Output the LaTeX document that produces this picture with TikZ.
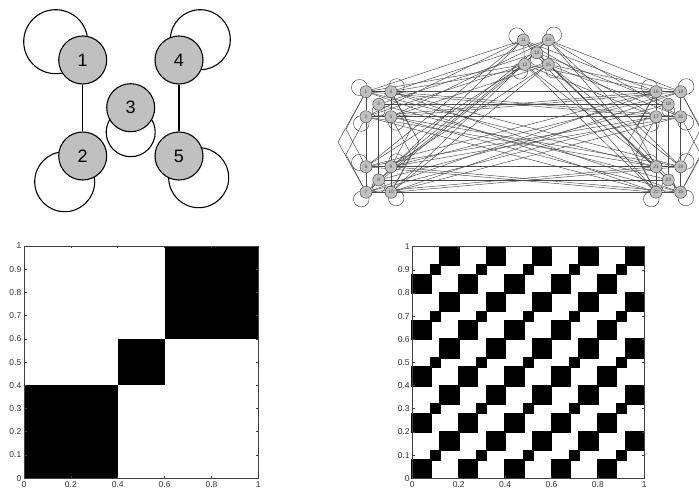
\documentclass[tikz,border=0pt]{standalone}
\usepackage{fontspec}
\setmainfont{Liberation Sans}
\usetikzlibrary{calc}
\definecolor{nodegray}{RGB}{192,192,192}
\definecolor{edgegray}{RGB}{72,72,72}
\pgfdeclarelayer{bottom}
\pgfdeclarelayer{background}
\pgfsetlayers{bottom,background,main}
\begin{document}
\begin{tikzpicture}[x=1pt,y=-1pt,
  bignode/.style={circle,draw=black,line width=1.1pt,fill=nodegray,minimum size=48pt,inner sep=0pt,font=\fontsize{18}{18}\selectfont},
  bigline/.style={draw=black,line width=1.1pt},
  smallnode/.style={circle,draw=edgegray,line width=0.45pt,fill=nodegray,minimum size=12pt,inner sep=0pt,font=\fontsize{4.8}{4.8}\selectfont,text=edgegray},
  gline/.style={draw=edgegray,line width=0.45pt},
  axisline/.style={draw=black!75,line width=0.7pt},
  ticklab/.style={inner sep=0pt,font=\fontsize{8.5}{8.5}\selectfont,text=black!80},
  blk/.style={fill=black},
  blkr/.style={fill=black,draw=black,line width=1.7pt}]

\begin{pgfonlayer}{bottom}
\fill[white] (0,0) rectangle (699,489);
\end{pgfonlayer}
\useasboundingbox (0,0) rectangle (699,489);

% ---------- small graph G ----------
\node[bignode] (a1) at (82.7,60) {1};
\node[bignode] (a4) at (179,60) {4};
\node[bignode] (a3) at (130.7,107.7) {3};
\node[bignode] (a2) at (82.7,156) {2};
\node[bignode] (a5) at (179,156) {5};
\begin{pgfonlayer}{background}
\draw[bigline] ($(a1)+(-27,-18.3)$) circle[radius=32];
\draw[bigline] ($(a4)+(21.3,-20.3)$) circle[radius=30];
\draw[bigline] ($(a3)+(0,24.5)$) circle[radius=24.5];
\draw[bigline] ($(a2)+(-18,25.7)$) circle[radius=30];
\draw[bigline] ($(a5)+(19.7,21.7)$) circle[radius=30];
\end{pgfonlayer}
\draw[bigline] (a1) -- (a2);
\draw[bigline] (a4) -- (a5);

% ---------- large graph ----------
\foreach \n/\x/\y in {1/366/91.7, 2/366/116.7, 3/378.7/104.3, 4/391/91.7, 5/391/116.7,
  6/366/166.7, 7/366/192.3, 8/378.7/180, 9/391/166.7, 10/391/192.3,
  11/523.3/40, 12/524.7/64.5, 13/536.7/52.8, 14/548.3/40, 15/548.3/64.5,
  16/656/91.7, 17/656/116.7, 18/668.3/104.3, 19/680.7/91.7, 20/680.7/116.7,
  21/656/166.7, 22/656/192.3, 23/668.3/180, 24/680.7/166.7, 25/680.7/192.3}
  \node[smallnode] (g\n) at (\x,\y) {\n};

\begin{pgfonlayer}{background}
% self loops
\foreach \n in {1,6,11,16,21} \draw[gline] ($(g\n)+(-6.5,-4.2)$) circle[radius=8];
\foreach \n in {2,7,12,17,22} \draw[gline] ($(g\n)+(-4.7,6.8)$) circle[radius=7.8];
\foreach \n in {3,8,13,18,23} \draw[gline] ($(g\n)+(0,6.3)$) circle[radius=6.4];
\foreach \n in {4,9,14,19,24} \draw[gline] ($(g\n)+(5.5,-5.2)$) circle[radius=7.8];
\foreach \n in {5,10,15,20,25} \draw[gline] ($(g\n)+(5.2,5.7)$) circle[radius=7.8];
% straight edges
\foreach \a/\b in {1/2,1/11,1/12,1/16,1/17,1/21,1/22, 2/6,2/11,2/12,2/16,2/17,2/21,2/22,
  6/7,6/11,6/12,6/16,6/17,6/21,6/22, 7/11,7/12,7/16,7/17,7/21,7/22,
  11/12,11/16,11/17,11/21,11/22, 12/16,12/17,12/21,12/22, 16/17, 17/21, 21/22,
  4/5,4/14,4/15,4/19,4/20,4/24,4/25, 5/9,5/14,5/15,5/19,5/20,5/24,5/25,
  9/10,9/14,9/15,9/19,9/20,9/24,9/25, 10/14,10/15,10/19,10/20,10/24,10/25,
  14/15,14/19,14/20,14/24,14/25, 15/19,15/20,15/24,15/25, 19/20, 20/24, 24/25,
  3/8,3/13,3/18,3/23,8/13,8/18,8/23,13/18,13/23,18/23}
  \draw[gline] (g\a) -- (g\b);
% bent edges (collinear node pairs)
\foreach \a/\b/\o in {1/6/-20, 1/7/-28, 2/7/-20, 16/21/-20, 16/22/-28, 17/22/-20,
  4/9/20, 4/10/28, 5/10/20, 19/24/20, 19/25/28, 20/25/20}
  \draw[gline] (g\a) -- ($(g\a)!0.5!(g\b)+(\o,0)$) -- (g\b);
\end{pgfonlayer}

% ---------- left graphon ----------
\begin{scope}[shift={(24pt,-478.3pt)},x=234.3pt,y=232.3pt]
  \fill[blk] (0,0) rectangle (0.4,0.4);
  \fill[blk] (0.4,0.4) rectangle (0.6,0.6);
  \fill[blk] (0.6,0.6) rectangle (1,1);
  \draw[axisline] (0,0) rectangle (1,1);
  \foreach \t in {0,0.2,0.4,0.6,0.8,1} {
    \draw[axisline] (\t,0) -- ++(0pt,2.5pt);
    \draw[axisline] (\t,1) -- ++(0pt,-2.5pt);
    \node[ticklab,anchor=north] at ($(\t,0)+(0pt,-3pt)$) {\t};
  }
  \foreach \t in {0,0.1,0.2,0.3,0.4,0.5,0.6,0.7,0.8,0.9,1} {
    \draw[axisline] (0,\t) -- ++(2.5pt,0pt);
    \draw[axisline] (1,\t) -- ++(-2.5pt,0pt);
    \node[ticklab,anchor=east] at ($(0,\t)+(-2.5pt,0pt)$) {\t};
  }
\end{scope}

% ---------- right graphon ----------
\begin{scope}[shift={(412.3pt,-478.3pt)},x=232pt,y=231.6pt]
  \foreach \i in {0,...,4} {
    \foreach \j in {0,...,4} {
      \filldraw[blkr] ({0.2*\i},{0.2*\j}) rectangle +(0.08,0.08);
      \filldraw[blkr] ({0.2*\i+0.08},{0.2*\j+0.08}) rectangle +(0.04,0.04);
      \filldraw[blkr] ({0.2*\i+0.12},{0.2*\j+0.12}) rectangle +(0.08,0.08);
    }
  }
  \draw[axisline] (0,0) rectangle (1,1);
  \foreach \t in {0,0.2,0.4,0.6,0.8,1} {
    \draw[axisline] (\t,0) -- ++(0pt,2.5pt);
    \draw[axisline] (\t,1) -- ++(0pt,-2.5pt);
    \node[ticklab,anchor=north] at ($(\t,0)+(0pt,-3pt)$) {\t};
  }
  \foreach \t in {0,0.1,0.2,0.3,0.4,0.5,0.6,0.7,0.8,0.9,1} {
    \draw[axisline] (0,\t) -- ++(2.5pt,0pt);
    \draw[axisline] (1,\t) -- ++(-2.5pt,0pt);
    \node[ticklab,anchor=east] at ($(0,\t)+(-2.5pt,0pt)$) {\t};
  }
\end{scope}
\end{tikzpicture}
\end{document}
